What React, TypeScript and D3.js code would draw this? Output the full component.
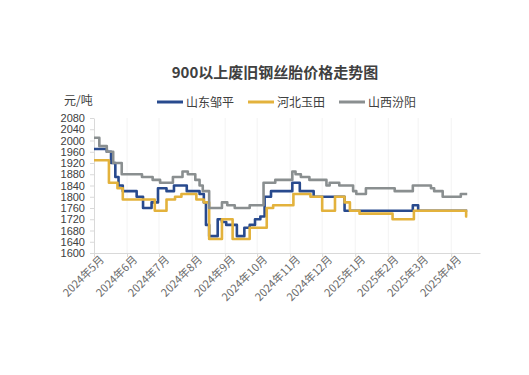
import React, { useRef, useEffect } from "react";
import * as d3 from "d3";

const title = "900以上废旧钢丝胎价格走势图";
const unitLabel = "元/吨";
const seriesNames = ["山东邹平", "河北玉田", "山西汾阳"];
const seriesColors = ["#284a8e", "#e3b23c", "#8a8f90"];

const yTicks = [1600, 1640, 1680, 1720, 1760, 1800, 1840, 1880, 1920, 1960, 2000, 2040, 2080];
const monthTicks = [
  "2024-05-01", "2024-06-01", "2024-07-01", "2024-08-01", "2024-09-01", "2024-10-01",
  "2024-11-01", "2024-12-01", "2025-01-01", "2025-02-01", "2025-03-01", "2025-04-01",
];

// price change points: [date, value]
const zouping: [string, number][] = [
  ["2024-05-01", 1970], ["2024-05-13", 1960], ["2024-05-17", 1920], ["2024-05-21", 1870],
  ["2024-05-24", 1840], ["2024-05-28", 1820], ["2024-06-10", 1800], ["2024-06-16", 1760],
  ["2024-06-24", 1780], ["2024-06-30", 1830], ["2024-07-08", 1820], ["2024-07-15", 1840],
  ["2024-07-27", 1820], ["2024-08-08", 1810], ["2024-08-12", 1780], ["2024-08-14", 1700],
  ["2024-08-17", 1660], ["2024-08-25", 1720], ["2024-08-29", 1710], ["2024-09-02", 1700],
  ["2024-09-12", 1660], ["2024-09-19", 1690], ["2024-09-24", 1700], ["2024-09-29", 1720],
  ["2024-10-04", 1730], ["2024-10-08", 1800], ["2024-10-14", 1820], ["2024-11-03", 1850],
  ["2024-11-10", 1820], ["2024-11-23", 1800], ["2024-12-22", 1750], ["2025-02-24", 1770],
  ["2025-03-01", 1750], ["2025-04-16", 1750],
];

const yutian: [string, number][] = [
  ["2024-05-01", 1930], ["2024-05-15", 1850], ["2024-05-23", 1830], ["2024-05-28", 1790],
  ["2024-06-27", 1750], ["2024-07-08", 1790], ["2024-07-16", 1800], ["2024-07-22", 1810],
  ["2024-08-05", 1790], ["2024-08-12", 1780], ["2024-08-17", 1650], ["2024-08-29", 1720],
  ["2024-09-08", 1650], ["2024-09-24", 1690], ["2024-10-10", 1760], ["2024-10-16", 1770],
  ["2024-11-04", 1810], ["2024-11-20", 1800], ["2024-12-01", 1750], ["2024-12-13", 1800],
  ["2024-12-22", 1780], ["2024-12-27", 1750], ["2025-01-05", 1740], ["2025-02-05", 1720],
  ["2025-02-25", 1750], ["2025-04-15", 1730], ["2025-04-16", 1730],
];

const fenyang: [string, number][] = [
  ["2024-05-01", 2010], ["2024-05-06", 1980], ["2024-05-13", 1960], ["2024-05-19", 1920],
  ["2024-05-27", 1880], ["2024-06-15", 1870], ["2024-06-25", 1860], ["2024-07-02", 1850],
  ["2024-07-14", 1870], ["2024-07-23", 1890], ["2024-07-28", 1880], ["2024-08-04", 1860],
  ["2024-08-08", 1840], ["2024-08-11", 1820], ["2024-08-17", 1760], ["2024-08-29", 1780],
  ["2024-09-03", 1770], ["2024-09-10", 1760], ["2024-09-24", 1770], ["2024-10-07", 1850],
  ["2024-10-18", 1860], ["2024-11-03", 1890], ["2024-11-06", 1880], ["2024-11-11", 1870],
  ["2024-11-19", 1860], ["2024-12-05", 1840], ["2024-12-08", 1850], ["2024-12-17", 1840],
  ["2024-12-30", 1820], ["2025-01-02", 1810], ["2025-01-11", 1830], ["2025-02-07", 1820],
  ["2025-02-24", 1840], ["2025-03-13", 1830], ["2025-03-16", 1820], ["2025-03-24", 1800],
  ["2025-04-10", 1810], ["2025-04-16", 1810],
];

export default function App() {
  const ref = useRef<SVGSVGElement | null>(null);

  useEffect(() => {
    const width = 529;
    const height = 375;
    const margin = { top: 118, right: 49, bottom: 122, left: 94 };
    const parse = d3.timeParse("%Y-%m-%d");
    const font = "'Noto Sans CJK SC', 'Noto Sans', sans-serif";

    const svg = d3.select(ref.current);
    svg.selectAll("*").remove();
    svg.attr("width", width).attr("height", height).style("background", "#fff");

    const x = d3
      .scaleTime()
      .domain([parse("2024-05-01")!, parse("2025-04-28")!])
      .range([margin.left, width - margin.right]);
    const y = d3
      .scaleLinear()
      .domain([1600, 2080])
      .range([height - margin.bottom, margin.top]);

    // faint vertical grid
    svg
      .append("g")
      .selectAll("line")
      .data(monthTicks.slice(1))
      .join("line")
      .attr("x1", (d) => x(parse(d)!))
      .attr("x2", (d) => x(parse(d)!))
      .attr("y1", y(2080))
      .attr("y2", y(1600))
      .attr("stroke", "#f3f3f3");

    const xAxis = svg
      .append("g")
      .attr("transform", `translate(0,${y(1600)})`)
      .call(
        d3
          .axisBottom(x)
          .tickValues(monthTicks.map((d) => parse(d)!))
          .tickFormat((d) => d3.timeFormat("%Y年%-m月")(d as Date))
          .tickSize(4)
          .tickSizeOuter(0)
      );
    xAxis
      .selectAll("text")
      .attr("font-family", font)
      .attr("font-size", 11)
      .attr("fill", "#6b6b6b")
      .attr("text-anchor", "end")
      .attr("dx", "0.2em")
      .attr("dy", "0.5em")
      .attr("transform", "rotate(-45)");

    const yAxis = svg
      .append("g")
      .attr("transform", `translate(${margin.left},0)`)
      .call(
        d3
          .axisLeft(y)
          .tickValues(yTicks)
          .tickFormat(d3.format("d"))
          .tickSize(4)
          .tickSizeOuter(0)
          .tickPadding(5)
      );
    yAxis
      .selectAll("text")
      .attr("font-family", "'Liberation Sans', Arial, sans-serif")
      .attr("font-size", 11)
      .attr("fill", "#404040");

    svg.selectAll(".domain, .tick line").attr("stroke", "#d9d9d9");

    const line = d3
      .line<[string, number]>()
      .x((d) => x(parse(d[0])!))
      .y((d) => y(d[1]))
      .curve(d3.curveStepAfter);

    [zouping, yutian, fenyang].forEach((s, i) => {
      svg
        .append("path")
        .datum(s)
        .attr("d", line)
        .attr("fill", "none")
        .attr("stroke", seriesColors[i])
        .attr("stroke-width", 2.6)
        .attr("stroke-linejoin", "round");
    });

    svg
      .append("text")
      .attr("x", 275)
      .attr("y", 78)
      .attr("text-anchor", "middle")
      .attr("font-family", font)
      .attr("font-size", 15)
      .attr("font-weight", "bold")
      .attr("fill", "#404040")
      .text(title);

    svg
      .append("text")
      .attr("x", 64)
      .attr("y", 105)
      .attr("font-family", font)
      .attr("font-size", 12)
      .attr("fill", "#404040")
      .text(unitLabel);

    const legendX = [157, 248, 339];
    const legend = svg
      .append("g")
      .selectAll("g")
      .data(seriesNames)
      .join("g")
      .attr("transform", (_, i) => `translate(${legendX[i]},102)`);
    legend
      .append("line")
      .attr("x1", 0)
      .attr("x2", 26)
      .attr("stroke", (_, i) => seriesColors[i])
      .attr("stroke-width", 3);
    legend
      .append("text")
      .attr("x", 29)
      .attr("y", 4.5)
      .attr("font-family", font)
      .attr("font-size", 12)
      .attr("fill", "#404040")
      .text((d) => d);
  }, []);

  return <svg ref={ref} style={{ position: "absolute", left: 0, top: 0 }}></svg>;
}
